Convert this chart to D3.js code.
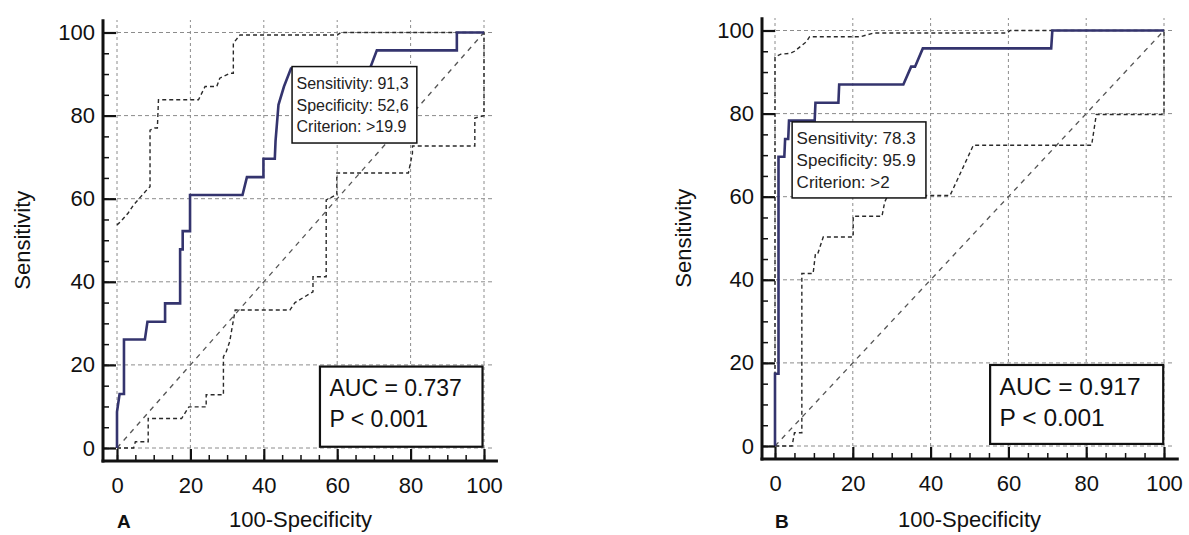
<!DOCTYPE html>
<html>
<head>
<meta charset="utf-8">
<script src="https://cdn.jsdelivr.net/npm/d3@7"></script>
<style>
  body { margin: 0; background: #fff; }
  svg { display: block; }
</style>
</head>
<body>
<div id="chart"></div>
<script>
// ---- values ----
const majorTicks = [0, 20, 40, 60, 80, 100];
const minorTicks = d3.range(0, 101, 5);

// panel A
const rocA_fpr = [0, 0, 0.7, 1.9, 1.9, 7.6, 8.3, 13.1, 13.1, 17.2, 17.2, 17.9, 17.9, 19.9, 19.9, 34.2, 35.4, 39.9, 39.9, 43, 43.2, 44, 45.5, 47.4, 68.9, 70.8, 92.6, 92.6, 100];
const rocA_tpr = [0, 8.7, 13, 13, 26.1, 26.1, 30.4, 30.4, 34.8, 34.8, 47.8, 47.8, 52.2, 52.2, 60.9, 60.9, 65.2, 65.2, 69.6, 69.6, 73.9, 82.6, 87, 91.3, 91.3, 95.7, 95.7, 100, 100];
const upperA_fpr = [0, 1, 3, 4.5, 6.5, 8, 9, 9, 10.2, 11, 11.3, 22.2, 24, 27.2, 28, 30.8, 31.7, 31.7, 33.5, 60, 61, 100];
const upperA_tpr = [53.7, 54.5, 56.5, 58.5, 60.5, 62, 62.9, 76.5, 77, 77, 83.8, 83.8, 87, 87, 89, 90.2, 90.2, 97.4, 99.4, 99.4, 100, 100];
const lowerA_fpr = [0, 4.5, 5, 8.5, 8.5, 17.6, 19.6, 24.3, 24.3, 29, 29, 29.7, 30.7, 32.2, 47.1, 48.5, 53.4, 53.4, 57, 57, 59.9, 59.9, 79.4, 80.5, 80.5, 97.5, 97.5, 100, 100];
const lowerA_tpr = [0, 0, 1.5, 1.5, 7.1, 7.1, 9.9, 9.9, 12.8, 12.8, 22, 23, 25.6, 33.2, 33.2, 35, 37.6, 41.2, 41.2, 59.7, 61, 66.2, 66.2, 70.9, 72.7, 72.7, 79.4, 80, 100];
const cutA = ["Sensitivity: 91,3", "Specificity: 52,6", "Criterion: >19.9"];
const aucA = ["AUC = 0.737", "P < 0.001"];

// panel B
const rocB_fpr = [0, 0, 0.9, 0.9, 2.4, 2.6, 3.4, 3.6, 10.2, 10.4, 16.3, 16.5, 33, 35, 36, 38, 71, 71.3, 100];
const rocB_tpr = [0, 17.4, 17.4, 69.6, 69.6, 73.9, 73.9, 78.3, 78.3, 82.6, 82.6, 87, 87, 91.3, 91.3, 95.7, 95.7, 100, 100];
const upperB_fpr = [0, 0, 1.5, 3.9, 5, 8.1, 8.9, 21.9, 25.4, 59.6, 60.5, 100];
const upperB_tpr = [0, 93.6, 94.3, 94.5, 95, 97.3, 98.5, 98.5, 99.4, 99.4, 100, 100];
const lowerB_fpr = [0, 4.4, 5, 6.9, 6.9, 9.8, 10.4, 11, 12.4, 20.1, 20.1, 27.5, 28.2, 29, 45, 51, 81.4, 82.6, 100, 100];
const lowerB_tpr = [0, 0, 3.2, 3.2, 41.5, 41.5, 46.3, 46.3, 50.3, 50.3, 55.3, 55.3, 58.7, 60.3, 60.3, 72.4, 72.4, 79.8, 79.8, 100];
const cutB = ["Sensitivity: 78.3", "Specificity: 95.9", "Criterion: >2"];
const aucB = ["AUC = 0.917", "P < 0.001"];

const xTitle = "100-Specificity";
const yTitle = "Sensitivity";

// ---- layout ----
const width = 1189, height = 535;
const font = "'Liberation Sans', Arial, sans-serif";

const panels = [
    {
        letter: "A", left: 117, right: 484, bottom: 448, top: 32.5,
        axisGapX: 14, axisGapY: 13, yTitleX: 22,
        roc: [rocA_fpr, rocA_tpr], upper: [upperA_fpr, upperA_tpr], lower: [lowerA_fpr, lowerA_tpr],
        cut: cutA, cutBox: [47.7, 81.7, 91.8, 73.4], cutFont: 16,
        auc: aucA, aucBox: [55.3, 99.6, 19.6, 0.3], aucFont: 23
    },
    {
        letter: "B", left: 775, right: 1164, bottom: 446, top: 30.5,
        axisGapX: 13, axisGapY: 13, yTitleX: 683,
        roc: [rocB_fpr, rocB_tpr], upper: [upperB_fpr, upperB_tpr], lower: [lowerB_fpr, lowerB_tpr],
        cut: cutB, cutBox: [4.4, 38.8, 78.0, 59.7], cutFont: 17,
        auc: aucB, aucBox: [55.3, 99.8, 19.5, 0.5], aucFont: 24.5
    }
];

const svg = d3.select("#chart").append("svg")
    .attr("width", width)
    .attr("height", height)
    .style("font-family", font);

function drawPanel(p) {
    const x = d3.scaleLinear().domain([0, 100]).range([p.left, p.right]);
    const y = d3.scaleLinear().domain([0, 100]).range([p.bottom, p.top]);
    const axisX = p.left - p.axisGapX;
    const axisY = p.bottom + p.axisGapY;

    const g = svg.append("g");

    // grid
    g.selectAll(".vgrid")
        .data(majorTicks)
        .enter()
        .append("line")
        .attr("x1", d => x(d)).attr("x2", d => x(d))
        .attr("y1", y(0)).attr("y2", y(103))
        .style("stroke", "#8c8c8c")
        .style("stroke-width", 1)
        .style("stroke-dasharray", "3,3");

    g.selectAll(".hgrid")
        .data(majorTicks)
        .enter()
        .append("line")
        .attr("x1", axisX).attr("x2", x(102.5))
        .attr("y1", d => y(d)).attr("y2", d => y(d))
        .style("stroke", "#8c8c8c")
        .style("stroke-width", 1)
        .style("stroke-dasharray", "4,3");

    // reference diagonal
    g.append("line")
        .attr("x1", x(0)).attr("y1", y(0))
        .attr("x2", x(100)).attr("y2", y(100))
        .style("stroke", "#555")
        .style("stroke-width", 1.3)
        .style("stroke-dasharray", "5,5");

    const line = d3.line()
        .x(d => x(d[0]))
        .y(d => y(d[1]));

    // confidence bands
    [p.upper, p.lower].forEach(band => {
        g.append("path")
            .datum(d3.zip(band[0], band[1]))
            .attr("d", line)
            .style("fill", "none")
            .style("stroke", "#2a2a2a")
            .style("stroke-width", 1.4)
            .style("stroke-dasharray", "4,3");
    });

    // ROC curve
    g.append("path")
        .datum(d3.zip(p.roc[0], p.roc[1]))
        .attr("d", line)
        .style("fill", "none")
        .style("stroke", "#34346e")
        .style("stroke-width", 2.6);

    // axes
    const styleAxis = sel => {
        sel.select(".domain").remove();
        sel.selectAll("line").style("stroke", "#111");
        sel.selectAll("text")
            .style("font-family", font)
            .style("font-size", "22px")
            .style("fill", "#111");
    };

    g.append("g")
        .attr("transform", `translate(${axisX},0)`)
        .call(d3.axisLeft(y).tickValues(minorTicks).tickSize(-6).tickFormat(""))
        .call(styleAxis)
        .selectAll("line").style("stroke-width", 1.5);

    g.append("g")
        .attr("transform", `translate(${axisX},0)`)
        .call(d3.axisLeft(y).tickValues(majorTicks).tickSize(-13).tickPadding(8))
        .call(styleAxis)
        .selectAll("line").style("stroke-width", 2.2);

    g.append("g")
        .attr("transform", `translate(0,${axisY})`)
        .call(d3.axisBottom(x).tickValues(minorTicks).tickSize(-6).tickFormat(""))
        .call(styleAxis)
        .selectAll("line").style("stroke-width", 1.5);

    g.append("g")
        .attr("transform", `translate(0,${axisY})`)
        .call(d3.axisBottom(x).tickValues(majorTicks).tickSize(-12).tickPadding(16))
        .call(styleAxis)
        .selectAll("line").style("stroke-width", 2.2);

    // axis lines
    g.append("line")
        .attr("x1", axisX).attr("x2", axisX)
        .attr("y1", y(103.2)).attr("y2", axisY + 1.5)
        .style("stroke", "#111").style("stroke-width", 3);
    g.append("line")
        .attr("x1", axisX - 1.5).attr("x2", x(103.8))
        .attr("y1", axisY).attr("y2", axisY)
        .style("stroke", "#111").style("stroke-width", 3);

    // cut-off box
    const cb = p.cutBox;
    g.append("rect")
        .attr("x", x(cb[0])).attr("y", y(cb[2]))
        .attr("width", x(cb[1]) - x(cb[0]))
        .attr("height", y(cb[3]) - y(cb[2]))
        .style("fill", "#fff")
        .style("stroke", "#111")
        .style("stroke-width", 1.5);
    const lh = (y(cb[3]) - y(cb[2])) / 3.5;
    g.selectAll(".cut")
        .data(p.cut)
        .enter()
        .append("text")
        .attr("x", x(cb[0]) + 4.5)
        .attr("y", (d, i) => y(cb[2]) + lh * (i + 0.75) + p.cutFont * 0.36)
        .style("font-size", p.cutFont + "px")
        .style("fill", "#222")
        .text(d => d);

    // AUC box
    const ab = p.aucBox;
    g.append("rect")
        .attr("x", x(ab[0])).attr("y", y(ab[2]))
        .attr("width", x(ab[1]) - x(ab[0]))
        .attr("height", y(ab[3]) - y(ab[2]))
        .style("fill", "#fff")
        .style("stroke", "#111")
        .style("stroke-width", 2.2);
    g.selectAll(".auc")
        .data(p.auc)
        .enter()
        .append("text")
        .attr("x", x(ab[0]) + 9.5)
        .attr("y", (d, i) => y(ab[2]) + 21.5 + i * 31 + p.aucFont * 0.36)
        .style("font-size", p.aucFont + "px")
        .style("fill", "#111")
        .text(d => d);

    // titles
    g.append("text")
        .attr("x", (x(0) + x(100)) / 2)
        .attr("y", 527)
        .attr("text-anchor", "middle")
        .style("font-size", "22px")
        .style("fill", "#111")
        .text(xTitle);

    g.append("text")
        .attr("transform", `translate(${p.yTitleX},${(y(0) + y(100)) / 2}) rotate(-90)`)
        .attr("text-anchor", "middle")
        .attr("dy", "0.35em")
        .style("font-size", "22px")
        .style("fill", "#111")
        .text(yTitle);

    g.append("text")
        .attr("x", x(0))
        .attr("y", 528)
        .style("font-size", "19px")
        .style("font-weight", "bold")
        .style("fill", "#111")
        .text(p.letter);
}

panels.forEach(drawPanel);
</script>
</body>
</html>
